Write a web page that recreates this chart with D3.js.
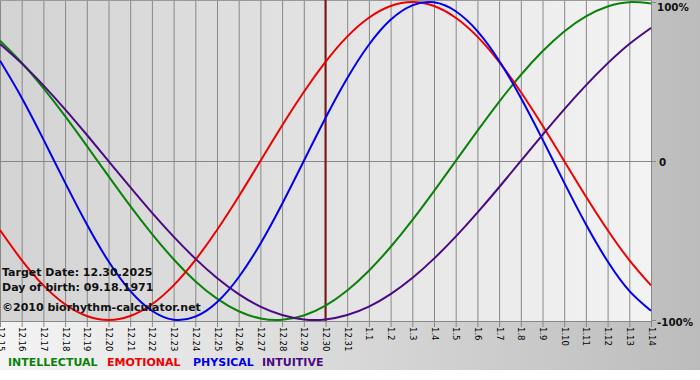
<!DOCTYPE html>
<html><head><meta charset="utf-8">
<script src="https://cdn.jsdelivr.net/npm/d3@7"></script>
<style>body{margin:0;background:#fff}svg{display:block}</style>
</head><body><svg id="c" width="700" height="380"></svg>
<script>
// ---- data ----
const dates = ["12.15","12.16","12.17","12.18","12.19","12.20","12.21","12.22","12.23","12.24","12.25","12.26","12.27","12.28","12.29","12.30","12.31","1.1","1.2","1.3","1.4","1.5","1.6","1.7","1.8","1.9","1.10","1.11","1.12","1.13","1.14"];
const intellectual = [0.756,0.618,0.458,0.282,0.095,-0.095,-0.282,-0.458,-0.618,-0.756,-0.866,-0.945,-0.990,-0.999,-0.972,-0.910,-0.815,-0.690,-0.541,-0.372,-0.189,0,0.189,0.372,0.541,0.690,0.815,0.910,0.972,0.999,0.990];
const emotional = [-0.434,-0.623,-0.782,-0.901,-0.975,-1,-0.975,-0.901,-0.782,-0.623,-0.434,-0.223,0,0.223,0.434,0.623,0.782,0.901,0.975,1,0.975,0.901,0.782,0.623,0.434,0.223,0,-0.223,-0.434,-0.623,-0.782];
const physical = [0.631,0.398,0.136,-0.136,-0.398,-0.631,-0.817,-0.942,-0.998,-0.979,-0.888,-0.731,-0.520,-0.270,0,0.270,0.520,0.731,0.888,0.979,0.998,0.942,0.817,0.631,0.398,0.136,-0.136,-0.398,-0.631,-0.817,-0.942];
const intuitive = [0.736,0.614,0.476,0.325,0.165,0,-0.165,-0.325,-0.476,-0.614,-0.736,-0.837,-0.916,-0.969,-0.997,-0.997,-0.969,-0.916,-0.837,-0.736,-0.614,-0.476,-0.325,-0.165,0,0.165,0.325,0.476,0.614,0.736,0.837];
const seriesNames = ["INTELLECTUAL","EMOTIONAL","PHYSICAL","INTUITIVE"];
const seriesColors = ["#0a820a","#ee0000","#0000ee","#4b0a82"];
const yTickValues = [1, 0, -1];
const yTickLabels = ["100%", "0", "-100%"];
const targetDate = "12.30";
const infoLines = ["Target Date: 12.30.2025", "Day of birth: 09.18.1971", "\u00a92010 biorhythm-calculator.net"];

// ---- drawing ----
const svg = d3.select("#c");
const W = 700, plotR = 651, plotB = 321;
const defs = svg.append("defs");
const g1 = defs.append("linearGradient").attr("id","bg").attr("x1","0").attr("x2","1").attr("y1","0").attr("y2","0");
g1.append("stop").attr("offset","0").attr("stop-color","#f4f4f4");
g1.append("stop").attr("offset","1").attr("stop-color","#bcbcbc");
const g2 = defs.append("linearGradient").attr("id","pbg").attr("x1","0").attr("x2","1").attr("y1","0").attr("y2","0");
g2.append("stop").attr("offset","0").attr("stop-color","#d3d3d3");
g2.append("stop").attr("offset","1").attr("stop-color","#f3f3f3");

svg.append("rect").attr("x",0).attr("y",0).attr("width",W).attr("height",370).attr("fill","url(#bg)");
svg.append("rect").attr("x",0).attr("y",0).attr("width",plotR).attr("height",plotB).attr("fill","url(#pbg)");

const x = d3.scalePoint().domain(dates).range([0, plotR]);
const y = d3.scaleLinear().domain([-1, 1]).range([320, 2]);

// vertical grid
svg.append("g").selectAll("line").data(dates).join("line")
  .attr("x1", d => x(d)+0.5).attr("x2", d => x(d)+0.5)
  .attr("y1", 0).attr("y2", plotB + 6)
  .attr("stroke", "#888").attr("stroke-width", 1);
// horizontal zero line + top/bottom borders
svg.append("line").attr("x1",0).attr("x2",plotR+5).attr("y1",Math.round(y(0))+0.5).attr("y2",Math.round(y(0))+0.5).attr("stroke","#888");
svg.append("line").attr("x1",0).attr("x2",plotR).attr("y1",0.5).attr("y2",0.5).attr("stroke","#999");
svg.append("line").attr("x1",0).attr("x2",plotR).attr("y1",plotB+0.5).attr("y2",plotB+0.5).attr("stroke","#888");
svg.append("g").selectAll("line").data(yTickValues).join("line")
  .attr("x1", plotR).attr("x2", plotR+5)
  .attr("y1", d => Math.round(y(d))+0.5).attr("y2", d => Math.round(y(d))+0.5)
  .attr("stroke", "#888");

// x tick labels (rotated)
svg.append("g").selectAll("text").data(dates).join("text")
  .attr("transform", d => `translate(${x(d)+0.5},${plotB+6}) rotate(90)`)
  .attr("dy", "0.35em")
  .attr("font-family", "DejaVu Sans, Verdana, sans-serif")
  .attr("font-size", 8.5)
  .attr("fill", "#000")
  .text(d => d);

// y labels on right
const yLabelBase = [11, 166, 326];
svg.append("g").selectAll("text").data(yTickValues).join("text")
  .attr("x", (d,i) => i === 1 ? 659 : 657)
  .attr("y", (d,i) => yLabelBase[i])
  .attr("font-family", "DejaVu Sans, Verdana, sans-serif")
  .attr("font-weight", "bold")
  .attr("font-size", 10.3)
  .attr("fill", "#111")
  .text((d,i) => yTickLabels[i]);

// target date line
svg.append("line").attr("x1", x(targetDate)).attr("x2", x(targetDate)).attr("y1", 0).attr("y2", plotB)
  .attr("stroke", "#7a1515").attr("stroke-width", 2);

// curves
const allSeries = [intellectual, emotional, physical, intuitive];
const line = d3.line().x((d,i) => x(dates[i])).y(d => y(d)).curve(d3.curveNatural);
svg.append("g").selectAll("path").data(allSeries).join("path")
  .attr("d", d => line(d))
  .attr("fill", "none")
  .attr("stroke", (d,i) => seriesColors[i])
  .attr("stroke-width", 2);

// info text
const infoY = [276, 291, 311];
svg.append("g").selectAll("text").data(infoLines).join("text")
  .attr("x", 2).attr("y", (d,i) => infoY[i])
  .attr("font-family", "DejaVu Sans, Verdana, sans-serif")
  .attr("font-weight", "bold")
  .attr("font-size", 11)
  .attr("fill", "#111")
  .text(d => d);

// legend
const legX = [8, 107, 193, 262];
svg.append("g").selectAll("text").data(seriesNames).join("text")
  .attr("x", (d,i) => legX[i]).attr("y", 366)
  .attr("font-family", "DejaVu Sans, Verdana, sans-serif")
  .attr("font-weight", "bold")
  .attr("font-size", 11)
  .attr("fill", (d,i) => seriesColors[i])
  .text(d => d);
</script>
</body></html>
